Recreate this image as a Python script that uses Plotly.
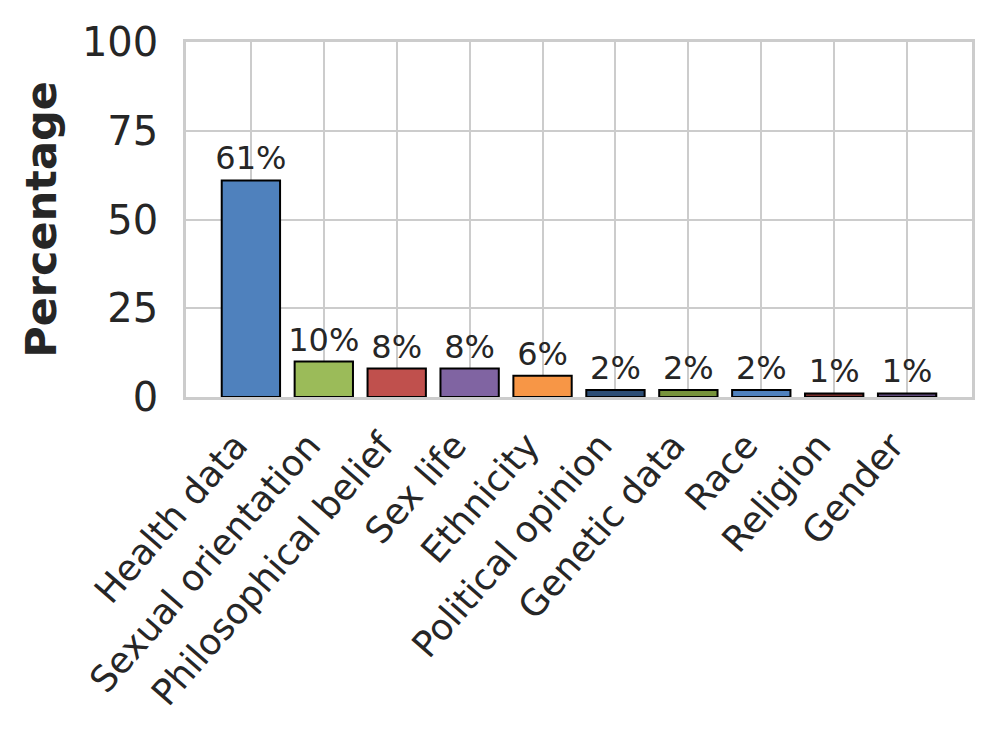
import plotly.graph_objects as go

categories = ["Health data", "Sexual orientation", "Philosophical belief", "Sex life",
              "Ethnicity", "Political opinion", "Genetic data", "Race", "Religion", "Gender"]
values = [61, 10, 8, 8, 6, 2, 2, 2, 1, 1]
labels = ["61%", "10%", "8%", "8%", "6%", "2%", "2%", "2%", "1%", "1%"]
colors = ["#4f81bd", "#9bbb59", "#c0504d", "#8064a2", "#f79646",
          "#2c4d75", "#77933c", "#4f81bd", "#772c2a", "#5f497a"]
y_ticks = [0, 25, 50, 75, 100]

fig = go.Figure(go.Bar(
    x=categories, y=values, text=labels, textposition="outside",
    constraintext="none", cliponaxis=False,
    textfont=dict(size=32, color="#262626", family="DejaVu Sans"),
    marker=dict(color=colors, line=dict(color="black", width=2)),
    width=0.8,
))

fig.update_layout(
    width=982, height=725,
    margin=dict(l=178, r=18, t=34, b=336),
    paper_bgcolor="white", plot_bgcolor="white",
    font=dict(family="DejaVu Sans", color="#262626"),
    showlegend=False,
)
fig.update_xaxes(
    range=[-0.89, 9.89], tickangle=-49, tickfont=dict(size=36),
    showgrid=True, gridcolor="#cccccc", gridwidth=2,
    showline=True, linecolor="#cccccc", linewidth=2.5, mirror=True,
    ticks="", ticklabelstandoff=10, ticklabelshift=-15, automargin=False,
)
fig.update_yaxes(
    range=[0, 100], tickvals=y_ticks, tickfont=dict(size=40),
    showgrid=True, gridcolor="#cccccc", gridwidth=2, zeroline=False,
    showline=True, linecolor="#cccccc", linewidth=2.5, mirror=True,
    ticks="", ticklabelstandoff=17, automargin=False,
    title=dict(text="<b>Percentage</b>", font=dict(size=43), standoff=12),
)

fig.write_html("out.html")
